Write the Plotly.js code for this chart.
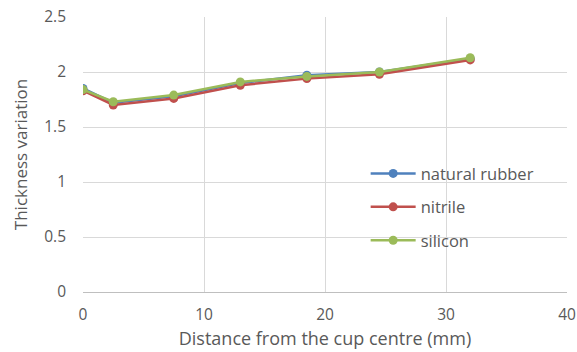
<!DOCTYPE html>
<html>
<head>
<meta charset="utf-8">
<script src="https://cdn.plot.ly/plotly-3.0.1.min.js"></script>
<style>
  html, body { margin: 0; padding: 0; background: #fff; }
  #chart { width: 577px; height: 352px; }
</style>
</head>
<body>
<div id="chart"></div>
<script>
// Distance from the cup centre (mm)
const distance = [0, 2.5, 7.5, 13, 18.5, 24.5, 32];

// Thickness variation per material
const naturalRubber = [1.85, 1.72, 1.78, 1.90, 1.97, 2.00, 2.12];
const nitrile       = [1.83, 1.70, 1.76, 1.88, 1.94, 1.98, 2.11];
const silicon       = [1.84, 1.73, 1.79, 1.91, 1.96, 2.00, 2.13];

const seriesNames = ['natural rubber', 'nitrile', 'silicon'];
const seriesColors = ['#4F81BD', '#C0504D', '#9BBB59'];
const seriesValues = [naturalRubber, nitrile, silicon];

const traces = seriesValues.map((vals, i) => ({
  type: 'scatter',
  mode: 'lines+markers',
  name: seriesNames[i],
  legendgroup: 'g' + i,
  x: distance,
  y: vals,
  line: { color: seriesColors[i], width: 2.5 },
  marker: { color: seriesColors[i], size: 9 }
}));

const textColor = '#595959';
const gridColor = '#d9d9d9';
const fontFamily = '"Open Sans", Lato, sans-serif';

const layout = {
  width: 577,
  height: 352,
  margin: { l: 83, r: 10, t: 17, b: 60 },
  paper_bgcolor: '#ffffff',
  plot_bgcolor: '#ffffff',
  font: { family: fontFamily, size: 15, color: textColor },
  showlegend: true,
  legend: {
    x: 0.584, y: 0.494, xanchor: 'left', yanchor: 'top',
    traceorder: 'grouped',
    tracegroupgap: 9,
    itemwidth: 45,
    bgcolor: 'rgba(0,0,0,0)',
    font: { family: fontFamily, size: 16.5, color: textColor }
  },
  xaxis: {
    range: [0, 40],
    tick0: 0, dtick: 10,
    showgrid: true, gridcolor: gridColor, gridwidth: 1,
    zeroline: false,
    showline: true, linecolor: '#bfbfbf', linewidth: 1,
    ticks: '',
    ticklabelstandoff: 8,
    tickfont: { family: fontFamily, size: 15.5, color: textColor },
    title: { text: 'Distance from the cup centre (mm)', font: { family: fontFamily, size: 18, color: textColor }, standoff: 8 }
  },
  yaxis: {
    range: [0, 2.5],
    tick0: 0, dtick: 0.5,
    showgrid: true, gridcolor: gridColor, gridwidth: 1,
    zeroline: false,
    showline: false,
    ticks: '',
    ticklabelstandoff: 16,
    tickfont: { family: fontFamily, size: 15.5, color: textColor },
    title: { text: 'Thickness variation', font: { family: fontFamily, size: 17, color: textColor }, standoff: 12 }
  }
};

Plotly.newPlot('chart', traces, layout, { displayModeBar: false, staticPlot: true });
</script>
</body>
</html>
